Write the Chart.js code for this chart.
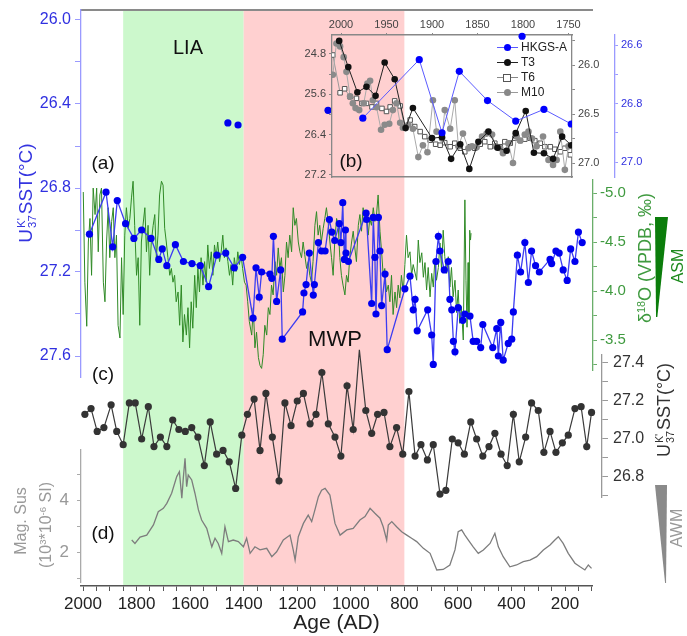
<!DOCTYPE html>
<html>
<head>
<meta charset="utf-8">
<title>HKGS-A SST, speleothem d18O and magnetic susceptibility</title>
<script src="https://cdn.jsdelivr.net/npm/chart.js@4.4.1/dist/chart.umd.min.js"></script>
<style>
  html, body { margin:0; padding:0; background:#fff; }
  #fig { position:relative; width:687px; height:636px; overflow:hidden; font-family:"Liberation Sans", Arial, sans-serif; }
  #fig canvas { position:absolute; left:0; top:0; }
  .t { position:absolute; white-space:nowrap; line-height:1; transform:translate(-50%,-50%); }
  .v { transform:translate(-50%,-50%) rotate(-90deg); }
  .stk { display:inline-block; vertical-align:middle; font-size:0.6em; line-height:1; text-align:left; margin:0 1px; }
  .stk span { display:block; }
  .sp { font-size:0.6em; vertical-align:0.6em; }
  .wedge { position:absolute; }
  #legend { position:absolute; left:496px; top:40px; font-size:12px; color:#222; }
  #legend div { position:relative; height:15px; line-height:15px; padding-left:25px; }
  #legend i { position:absolute; left:1px; top:7px; width:21px; border-top:1px solid; }
  #legend b { position:absolute; left:8px; top:4px; width:7px; height:7px; border-radius:50%; }
</style>
</head>
<body>
<div id="fig">
  <canvas id="cBg" width="687" height="636"></canvas>
  <canvas id="cMag" width="687" height="636"></canvas>
  <canvas id="cC" width="687" height="636"></canvas>
  <canvas id="cO" width="687" height="636"></canvas>
  <canvas id="cA" width="687" height="636"></canvas>
  <canvas id="cIn" width="687" height="636"></canvas>

  <div class="t" style="left:188px;top:47px;font-size:20px;color:#111;">LIA</div>
  <div class="t" style="left:335px;top:339px;font-size:22px;color:#111;">MWP</div>
  <div class="t" style="left:103px;top:162px;font-size:19px;color:#111;">(a)</div>
  <div class="t" style="left:351px;top:160px;font-size:19px;color:#111;">(b)</div>
  <div class="t" style="left:103px;top:373px;font-size:19px;color:#111;">(c)</div>
  <div class="t" style="left:103px;top:532px;font-size:19px;color:#111;">(d)</div>

  <div class="t v" style="left:27px;top:193px;font-size:19px;color:#3434e0;">U<span class="stk"><span>K'</span><span>37</span></span>SST(°C)</div>
  <div class="t v" style="left:645px;top:258px;font-size:18px;color:#3f9a3f;">δ<span class="sp">18</span>O (VPDB, ‰)</div>
  <div class="t v" style="left:665px;top:410px;font-size:18px;color:#333;">U<span class="stk"><span>K'</span><span>37</span></span>SST(°C)</div>
  <div class="t v" style="left:21px;top:521px;font-size:16px;color:#999;">Mag. Sus</div>
  <div class="t v" style="left:46px;top:525px;font-size:16px;color:#999;">(10<span class="sp">3</span>*10<span class="sp">-6</span> SI)</div>

  <div class="wedge" style="left:655px;top:217px;width:13px;height:100px;background:#0b7d0b;clip-path:polygon(0 0,100% 0,18% 100%,8% 100%);"></div>
  <div class="t v" style="left:678px;top:266px;font-size:16px;color:#1d8a1d;">ASM</div>
  <div class="wedge" style="left:655px;top:485px;width:12px;height:98px;background:#8a8a8a;clip-path:polygon(0 0,100% 0,92% 100%,84% 100%);"></div>
  <div class="t v" style="left:677px;top:528px;font-size:16px;color:#999;">AWM</div>

  <div id="legend">
    <div><i style="border-color:#5a5aff"></i><b style="background:#0000ff"></b>HKGS-A</div>
    <div><i style="border-color:#222"></i><b style="background:#111"></b>T3</div>
    <div><i style="border-color:#888"></i><b style="background:#fff;border:1px solid #555;border-radius:0;width:6px;height:6px;left:7px;"></b>T6</div>
    <div><i style="border-color:#999"></i><b style="background:#888"></b>M10</div>
  </div>
</div>

<script>
// ---- data ----

// time axis
const ageMajor = [2000, 1800, 1600, 1400, 1200, 1000, 800, 600, 400, 200];
const ageMinor = [1950, 1900, 1850, 1750, 1700, 1650, 1550, 1500, 1450, 1350, 1300, 1250, 1150, 1100, 1050,
                  950, 900, 850, 750, 700, 650, 550, 500, 450, 350, 300, 250, 150, 100];

// climate periods (shaded)
const periodNames = ['LIA', 'MWP'];
const periodFrom = [1850, 1400];
const periodTo = [1400, 800];

// (a) HKGS-A alkenone SST
const ageA = [1976,1914,1889,1872,1841,1810,1781,1746,1717,1704,
  1687,1655,1625,1593,1562,1531,1500,1467,1435,1404,
  1365,1354,1342,1333,1302,1295,1289,1277,1262,1256,
  1180,1175,1167,1155,1140,1136,1121,1109,1096,1080,
  1071,1060,1043,1037,1030,1024,1020,1018,1009,943,
  941,922,916,910,906,897,891,885,872,864,
  798,779,767,760,752,713,698,692,682,673,
  667,651,636,630,623,617,611,599,582,574,
  555,543,530,515,507,470,455,449,440,431,
  412,399,393,378,366,350,337,325,310,296,
  256,250,234,222,207,192,179,163,150,136];
const sstA = [27.02,26.82,27.08,26.86,26.97,27.04,27.00,27.04,27.14,27.09,
  27.17,27.07,27.15,27.16,27.17,27.27,27.12,27.11,27.18,27.13,
  27.42,27.18,27.32,27.20,27.21,27.23,27.03,27.34,27.19,27.52,
  27.39,27.30,27.26,27.11,27.31,27.26,27.06,27.10,27.10,26.95,
  27.01,27.05,26.97,27.06,26.87,27.14,27.00,27.11,27.15,26.92,
  26.95,27.35,26.94,27.13,27.40,26.94,27.10,27.36,27.21,27.57,
  27.28,27.22,27.38,27.33,27.48,27.38,27.50,27.64,27.15,27.03,
  27.10,27.19,27.15,27.33,27.38,27.53,27.58,27.37,27.43,27.40,
  27.41,27.53,27.53,27.56,27.45,27.56,27.47,27.60,27.44,27.62,
  27.54,27.52,27.39,27.12,27.20,27.06,27.25,27.10,27.17,27.20,
  27.14,27.16,27.10,27.11,27.19,27.24,27.09,27.15,27.01,27.06];
const ageAOut = [1459, 1421, 1085];
const sstAOut = [26.49, 26.50, 26.43];

// (a) speleothem d18O
const ageO = [1999,1993,1986,1980,1974,1968,1962,1955,1949,1943,
  1937,1931,1924,1918,1912,1906,1900,1893,1887,1881,
  1875,1869,1862,1856,1850,1844,1838,1831,1825,1819,
  1813,1807,1800,1794,1788,1782,1776,1769,1763,1757,
  1751,1745,1738,1732,1726,1720,1714,1707,1701,1695,
  1689,1683,1676,1670,1664,1658,1652,1645,1639,1633,
  1627,1621,1614,1608,1602,1596,1590,1583,1577,1571,
  1565,1559,1552,1546,1540,1534,1528,1521,1515,1509,
  1503,1497,1490,1484,1478,1472,1466,1459,1453,1447,
  1441,1435,1428,1422,1416,1410,1404,1397,1391,1385,
  1379,
  1370,1364,1358,1352,1345,1339,1333,1327,1321,1314,
  1308,1302,1296,1290,1283,1277,1271,1265,1259,1252,
  1246,1240,1234,1228,1221,1215,1209,1203,1196,1190,
  1184,1178,1172,1165,1159,1153,1147,1141,1134,1128,
  1122,1116,1110,1103,1097,1091,1085,1078,1072,1066,
  1060,1053,1047,1041,1035,1029,1022,1016,1010,1004,
  997,991,985,979,972,966,960,954,948,941,
  935,929,923,916,910,904,898,891,885,879,
  873,867,860,854,848,842,835,829,823,817,
  811,804,798,792,786,779,773,767,
  754,748,742,735,729,723,717,711,704,698,
  692,686,680,673,667,661,655,649,642,636,
  630,624,618,611,605,599,593,587,580,
  574,570,566,562,559,556,553,551];
const d18O = [-5.01,-4.09,-3.64,-4.50,-4.74,-4.16,-5.05,-4.78,-5.05,-4.40,
  -4.98,-5.05,-4.09,-3.89,-4.50,-4.85,-4.34,-4.71,-4.85,-4.34,
  -4.57,-3.65,-3.52,-4.34,-3.76,-4.57,-4.85,-4.64,-4.74,-4.95,
  -5.12,-4.67,-4.16,-4.34,-3.65,-4.50,-4.67,-4.85,-4.40,-4.67,
  -4.16,-4.50,-4.67,-4.78,-4.34,-4.57,-4.98,-5.12,-5.08,-4.64,
  -4.50,-4.34,-4.16,-4.23,-4.09,-4.16,-3.89,-3.99,-3.65,-4.06,
  -3.48,-3.76,-3.55,-3.83,-3.42,-3.89,-3.62,-4.16,-3.83,-4.23,
  -3.99,-4.34,-4.06,-4.30,-4.09,-4.47,-4.23,-4.40,-4.16,-4.47,
  -4.34,-4.50,-4.30,-4.40,-4.57,-4.34,-4.44,-4.30,-4.16,-4.27,
  -4.06,-4.34,-4.20,-4.40,-4.27,-4.37,-4.23,-4.09,-4.06,-3.89,
  -3.69,
  -3.55,-3.83,-3.42,-3.58,-3.32,-3.24,-3.21,-3.35,-3.65,-3.55,
  -3.83,-3.76,-4.06,-3.96,-4.30,-4.16,-4.44,-4.23,-4.34,-3.99,
  -4.16,-4.50,-4.34,-4.57,-4.40,-4.85,-4.67,-4.74,-4.50,-4.40,
  -4.34,-4.50,-4.37,-4.23,-4.30,-4.16,-4.09,-4.30,-4.67,-4.81,
  -4.57,-4.67,-4.50,-4.64,-4.74,-4.85,-4.71,-4.50,-4.34,-4.16,
  -4.50,-4.74,-4.67,-4.34,-4.16,-4.06,-3.96,-4.16,-4.09,-4.34,
  -4.50,-4.61,-4.44,-4.30,-4.67,-4.78,-4.61,-4.85,-4.71,-4.78,
  -4.57,-4.74,-4.67,-4.85,-4.71,-4.78,-4.98,-4.61,-4.40,-4.16,
  -4.23,-3.99,-4.06,-3.89,-4.16,-3.76,-3.99,-3.83,-4.06,-3.93,
  -4.16,-3.99,-4.27,-4.57,-4.34,-4.40,-4.16,-4.27,
  -4.11,-4.52,-4.29,-4.39,-4.14,-4.29,-4.01,-4.24,-3.94,-4.18,
  -4.04,-4.32,-4.11,-4.24,-4.49,-4.21,-4.62,-4.35,-4.18,-4.35,
  -4.04,-4.24,-3.94,-4.11,-3.78,-4.01,-3.67,-3.84,-3.50,
  -4.93,-4.11,-3.63,-4.29,-3.78,-4.62,-4.52,-4.59];

// (c) second SST record
const ageC = [1993,1970,1947,1922,1895,1874,1850,1827,1805,1781,
  1756,1735,1711,1687,1665,1642,1618,1594,1571,1547,
  1525,1501,1477,1454,1430,1407,1386,1361,1339,1317,
  1293,1268,1246,1223,1200,1177,1152,1130,1108,1084,
  1059,1037,1014,991,968,944,922,900,876,854,
  829,806,783,760,738,714,692,667,645,621,
  599,576,552,530,507,484,462,439,416,393,
  371,347,325,300,279,256,234,210,188,163,
  140,119,101];
const sstC = [27.13,27.16,27.04,27.06,27.18,27.04,26.97,27.19,27.19,27.00,
  27.17,26.96,27.01,26.96,27.10,27.05,27.04,27.06,27.01,26.86,
  27.09,26.92,26.94,26.88,26.74,27.02,27.13,27.21,26.94,27.24,
  27.01,26.78,27.19,27.07,27.20,27.24,27.08,27.13,27.35,27.08,
  27.01,26.91,27.28,27.05,27.47,27.15,27.03,27.13,27.14,26.96,
  27.06,26.92,27.25,26.91,26.97,26.89,26.97,26.71,26.73,27.00,
  26.98,26.92,27.09,27.00,26.91,26.96,27.03,26.92,26.86,27.13,
  26.88,27.01,27.19,27.15,26.93,27.04,26.93,26.98,27.02,27.16,
  27.17,26.96,27.14];

// (d) magnetic susceptibility
const ageD = [1818,1806,1787,1762,1737,1719,1700,1687,1669,1650,
  1640,1631,1625,1619,1613,1607,1594,1582,1569,1557,
  1538,1519,1507,1495,1482,1470,1457,1439,1420,1401,
  1389,1376,1358,1339,1314,1295,1277,1252,1227,1215,
  1208,1196,1177,1159,1146,1134,1121,1109,1096,1078,
  1059,1040,1015,991,966,947,928,910,891,879,
  866,860,847,829,810,791,773,754,729,704,
  679,655,630,611,599,586,574,561,543,524,
  505,480,462,449,431,406,381,356,331,306,
  281,256,238,225,207,188,163,144,126,113,
  101];
const magD = [2.46,2.33,2.57,2.65,3.04,3.55,3.68,3.87,4.26,4.90,
  5.09,4.07,4.90,5.60,4.51,4.96,4.77,4.26,3.62,3.23,
  2.91,2.20,2.53,2.33,1.95,2.97,2.40,2.46,2.40,2.20,
  2.53,1.95,2.20,2.08,2.14,1.82,2.01,2.46,2.65,2.08,
  1.69,2.59,3.10,3.42,3.17,3.62,4.13,4.38,4.45,4.19,
  3.10,2.65,2.85,2.91,3.23,3.36,3.68,3.49,3.30,2.97,
  2.46,3.04,3.17,2.97,2.78,2.65,2.53,2.40,2.14,1.95,
  1.31,1.33,1.50,2.08,2.78,2.85,2.65,2.46,2.20,1.95,
  2.08,2.33,2.72,2.20,1.82,1.43,1.50,1.63,1.69,1.82,
  2.08,2.27,2.46,2.59,2.33,1.95,1.57,1.43,1.31,1.50,
  1.37];

// (b) inset, last ~260 years
const insetAgeTicks = [2000, 1950, 1900, 1850, 1800, 1750];
const ageBH = [1976, 1914, 1889, 1870, 1839, 1808, 1777, 1747];
const sstBH = [26.85, 26.65, 26.90, 26.69, 26.79, 26.86, 26.82, 26.87];
const ageBHOut = [1801];
const sstBHOut = [26.57];
const ageT3 = [2002,1992,1982,1972,1962,1952,1941,1929,1921,1900,1889,1879,1869,1859,1849,1838,1828,1818,1808,1797,1788,1777,1767,1757,1747];
const sstT3 = [24.54,25.06,25.56,25.45,25.63,24.97,25.30,26.27,25.87,26.47,26.45,26.88,26.59,27.08,26.54,26.34,26.66,26.72,26.37,25.93,26.76,26.77,26.88,26.44,26.61];
const ageT6 = [2009,2001,1996,1990,1983,1977,1972,1966,1961,1955,1950,1946,1941,1935,1930,1924,1919,1913,1908,1902,
  1896,1891,1886,1880,1875,1869,1864,1858,1853,1847,1842,1836,1831,1825,1820,1814,1809,1803,1798,1792,
  1787,1781,1776,1770,1765,1759,1754,1748];
const sstT6 = [24.82,25.57,25.49,25.65,25.68,25.78,25.78,25.85,25.78,25.88,25.94,25.85,25.73,25.83,26.25,26.11,26.24,26.34,26.44,26.51,
  26.59,26.61,26.56,26.64,26.57,26.67,26.74,26.64,26.67,26.59,26.54,26.64,26.57,26.64,26.54,26.57,26.47,26.52,26.49,26.47,
  26.52,26.57,26.64,26.64,26.69,26.74,26.67,26.80];
const ageM10 = [2009,2005,2001,1997,1994,1990,1987,1984,1980,1975,1971,1968,1965,1961,1956,1952,1947,1943,1939,1935,
  1932,1926,1921,1915,1910,1905,1899,1895,1889,1886,1880,1875,1871,1866,1860,1856,1851,1845,1840,1834,
  1830,1825,1822,1816,1811,1807,1803,1798,1794,1790,1785,1778,1772,1767,1763,1759,1754,1750];
const sstM10 = [26.10,25.78,25.81,25.92,26.07,26.32,26.39,26.44,26.46,26.39,26.19,26.16,26.36,26.43,26.66,26.61,26.60,26.46,26.39,26.59,
  26.64,26.61,26.65,26.94,26.82,26.89,26.36,26.68,26.75,26.46,26.65,26.36,26.83,26.70,26.85,26.83,26.84,26.73,26.70,26.71,
  26.83,26.85,26.90,26.80,27.00,26.73,26.77,26.71,26.68,26.75,26.83,26.73,26.97,27.02,26.97,26.68,27.07,26.83];

// axis ticks
const blueTicks = [26.0, 26.2, 26.4, 26.6, 26.8, 27.0, 27.2, 27.4, 27.6];
const blueLabels = [26.0, 26.4, 26.8, 27.2, 27.6];
const d18OTicks = [-5.0, -4.75, -4.5, -4.25, -4.0, -3.75, -3.5, -3.25];
const d18OLabels = [-5.0, -4.5, -4.0, -3.5];
const cTicks = [26.7, 26.8, 26.9, 27.0, 27.1, 27.2, 27.3, 27.4];
const cLabels = [26.8, 27.0, 27.2, 27.4];
const magTicks = [1, 2, 3, 4, 5];
const magLabels = [2, 4];
const inLTicks = [24.8, 25.2, 25.6, 26.0, 26.4, 26.8, 27.2];
const inLLabels = [24.8, 25.6, 26.4, 27.2];
const inRTicks = [25.75, 26.0, 26.25, 26.5, 26.75, 27.0];
const inRLabels = [26.0, 26.5, 27.0];
const inBTicks = [26.6, 26.7, 26.8, 26.9, 27.0];
const inBLabels = [26.6, 26.8, 27.0];

// ---- page calibration (pixel position of the axes in the figure) ----
const W = 687, H = 636;
function yrMain(px) { return 2000 - (px - 83) / 0.2678; }
function yrInset(px) { return 2000 - (px - 341) / 0.91; }
function down(py, py0, v0, ppu) { return v0 + (py - py0) / ppu; }   // reversed axes
function up(py, py0, v0, ppu) { return v0 - (py - py0) / ppu; }

Chart.defaults.font.family = '"Liberation Sans", Arial, sans-serif';

function pts(xs, ys) { return xs.map((x, i) => ({x: x, y: ys[i]})); }
function fit(w, h) {
  return s => {
    if (w != null) s.width = w;
    if (h != null) s.height = h;
    s.paddingTop = s.paddingBottom = s.paddingLeft = s.paddingRight = 0;
  };
}
function setTicks(vals) { return s => { s.ticks = vals.slice().sort((a, b) => a - b).map(v => ({value: v})); }; }
function only(labels, dp) { return v => labels.some(l => Math.abs(l - v) < 1e-6) ? v.toFixed(dp) : ''; }

function yAxis(o) {
  return {
    type: 'linear', position: o.pos, reverse: !!o.rev, min: o.min, max: o.max, weight: o.weight || 0,
    afterFit: fit(o.w, null), afterBuildTicks: setTicks(o.ticks),
    ticks: {callback: only(o.labels, o.dp), color: o.text, font: {size: o.size}, padding: o.pad, autoSkip: false},
    grid: {drawOnChartArea: false, tickLength: o.tl, color: o.line, tickWidth: 1},
    border: {color: o.line, width: o.bw || 1.3}
  };
}
function hiddenX(l, r) { return {type: 'linear', display: false, reverse: true, min: yrMain(r), max: yrMain(l)}; }

// area = chart area in page pixels; lw/rw/th/bh = room taken by the visible axes
function panel(id, area, scales, datasets, plugins) {
  return new Chart(document.getElementById(id), {
    type: 'line',
    data: {datasets: datasets},
    options: {
      responsive: false, animation: false, events: [],
      layout: {autoPadding: false, padding: {
        left: area.l - (area.lw || 0), right: W - area.r - (area.rw || 0),
        top: area.t - (area.th || 0), bottom: H - area.b - (area.bh || 0)}},
      plugins: {legend: {display: false}, tooltip: {enabled: false}},
      scales: scales
    },
    plugins: plugins || []
  });
}

// ---- background: periods + age axis ----
const periodColors = ['rgb(204,248,204)', 'rgb(255,208,208)'];
const shade = {
  id: 'shade',
  beforeDraw(chart) {
    const {ctx, chartArea: a, scales: {x}} = chart;
    periodNames.forEach((n, i) => {
      const x1 = x.getPixelForValue(periodFrom[i]), x2 = x.getPixelForValue(periodTo[i]);
      ctx.fillStyle = periodColors[i];
      ctx.fillRect(Math.min(x1, x2), a.top, Math.abs(x2 - x1), a.bottom - a.top);
    });
  }
};
panel('cBg', {l: 81, r: 592, t: 10, b: 586, bh: 50}, {
  x: {
    type: 'linear', position: 'bottom', reverse: true, min: yrMain(592), max: yrMain(81),
    afterFit: fit(null, 50), afterBuildTicks: setTicks(ageMajor.concat(ageMinor)),
    ticks: {callback: v => ageMajor.includes(v) ? String(v) : '', color: '#222', font: {size: 17}, padding: 3, autoSkip: false, maxRotation: 0},
    grid: {drawOnChartArea: false, tickLength: 5, color: '#555'},
    border: {color: '#555', width: 1.5},
    title: {display: true, text: 'Age (AD)', color: '#222', font: {size: 21}, padding: 0}
  },
  xt: {
    type: 'linear', position: 'top', afterFit: fit(null, 0),
    ticks: {display: false}, grid: {drawOnChartArea: false, drawTicks: false},
    border: {color: '#8a8a8a', width: 2}
  },
  y: {display: false}
}, [], [shade]);

// ---- (d) magnetic susceptibility ----
panel('cMag', {l: 81, r: 592, t: 450, b: 582, lw: 40}, {
  x: hiddenX(81, 592),
  y: yAxis({pos: 'left', min: up(582, 500, 4, 26), max: up(450, 500, 4, 26), w: 40,
    ticks: magTicks, labels: magLabels, dp: 0, text: '#999', size: 17, pad: 8, tl: 4, line: '#aaa'})
}, [{
  data: pts(ageD, magD), borderColor: '#7d7d7d', borderWidth: 1.3, pointRadius: 0, tension: 0
}]);

// ---- (c) SST record ----
panel('cC', {l: 81, r: 602, t: 355, b: 497, rw: 45}, {
  x: hiddenX(81, 602),
  y: yAxis({pos: 'right', min: up(497, 363, 27.4, 190), max: up(355, 363, 27.4, 190), w: 45,
    ticks: cTicks, labels: cLabels, dp: 1, text: '#333', size: 16, pad: 5, tl: 6, line: '#999'})
}, [{
  data: pts(ageC, sstC), borderColor: '#3a3a3a', borderWidth: 1.2, tension: 0, clip: false,
  pointRadius: 3.6, pointBackgroundColor: '#333', pointBorderWidth: 0
}]);

// ---- (a) d18O ----
panel('cO', {l: 81, r: 593, t: 180, b: 370, rw: 50}, {
  x: hiddenX(81, 593),
  y: yAxis({pos: 'right', rev: true, min: down(180, 193, -5.0, 98), max: down(370, 193, -5.0, 98), w: 50,
    ticks: d18OTicks, labels: d18OLabels, dp: 1, text: '#3f9a3f', size: 15, pad: 3, tl: 4, line: '#6aae6a'})
}, [{
  data: pts(ageO, d18O), borderColor: '#2f8a26', borderWidth: 1, pointRadius: 0, tension: 0
}]);

// ---- (a) HKGS-A SST ----
panel('cA', {l: 81, r: 592, t: 10, b: 377, lw: 60}, {
  x: hiddenX(81, 592),
  y: yAxis({pos: 'left', rev: true, min: down(10, 20, 26.0, 210), max: down(377, 20, 26.0, 210), w: 60,
    ticks: blueTicks, labels: blueLabels, dp: 1, text: '#3030e0', size: 16, pad: 4, tl: 6, line: '#9a9aff'})
}, [{
  data: pts(ageA, sstA), borderColor: '#3c3cf2', borderWidth: 1.3, tension: 0,
  pointRadius: 3.6, pointBackgroundColor: '#0000ee', pointBorderWidth: 0
}, {
  data: pts(ageAOut, sstAOut), showLine: false,
  pointRadius: 3.6, pointBackgroundColor: '#0000ee', pointBorderWidth: 0
}]);

// ---- (b) inset ----
const dot = (c) => ({pointRadius: 3.3, pointBackgroundColor: c, pointBorderWidth: 0, borderWidth: 1, tension: 0});
panel('cIn', {l: 332, r: 572, t: 35, b: 177, lw: 40, rw: 83, th: 22}, {
  x: {
    type: 'linear', position: 'top', reverse: true, min: yrInset(572), max: yrInset(332),
    afterFit: fit(null, 22), afterBuildTicks: setTicks(insetAgeTicks),
    ticks: {callback: v => String(v), color: '#444', font: {size: 11}, padding: 1, autoSkip: false, maxRotation: 0},
    grid: {drawOnChartArea: false, tickLength: 2, color: '#888'},
    border: {color: '#888', width: 1.5}
  },
  xb: {
    type: 'linear', position: 'bottom', afterFit: fit(null, 0),
    ticks: {display: false}, grid: {drawOnChartArea: false, drawTicks: false},
    border: {color: '#888', width: 1.5}
  },
  yl: yAxis({pos: 'left', rev: true, min: down(35, 54, 24.8, 50.4), max: down(177, 54, 24.8, 50.4), w: 40,
    ticks: inLTicks, labels: inLLabels, dp: 1, text: '#444', size: 11, pad: 3, tl: 3, line: '#888'}),
  yr: yAxis({pos: 'right', weight: 1, rev: true, min: down(35, 65, 26.0, 98), max: down(177, 65, 26.0, 98), w: 43,
    ticks: inRTicks, labels: inRLabels, dp: 1, text: '#444', size: 11, pad: 3, tl: 3, line: '#888'}),
  yb: yAxis({pos: 'right', weight: 2, rev: true, min: down(35, 45, 26.6, 292.5), max: down(177, 45, 26.6, 292.5), w: 40,
    ticks: inBTicks, labels: inBLabels, dp: 1, text: '#3030e0', size: 11, pad: 3, tl: 3, line: '#9a9aff'})
}, [
  Object.assign({data: pts(ageBH, sstBH), yAxisID: 'yb', borderColor: '#5a5aff'}, dot('#0000ff'), {pointRadius: 3.6}),
  Object.assign({data: pts(ageBHOut, sstBHOut), yAxisID: 'yb', showLine: false, clip: false}, dot('#0000ff'), {pointRadius: 3.6}),
  Object.assign({data: pts(ageT3, sstT3), yAxisID: 'yl', borderColor: '#222'}, dot('#111')),
  Object.assign({data: pts(ageM10, sstM10), yAxisID: 'yr', borderColor: '#aaa'}, dot('#8a8a8a')),
  Object.assign({data: pts(ageT6, sstT6), yAxisID: 'yl', borderColor: '#999'}, dot('#fff'),
    {pointStyle: 'rect', pointRadius: 3.2, pointBorderWidth: 1, pointBorderColor: '#555'})
]);
</script>
</body>
</html>
